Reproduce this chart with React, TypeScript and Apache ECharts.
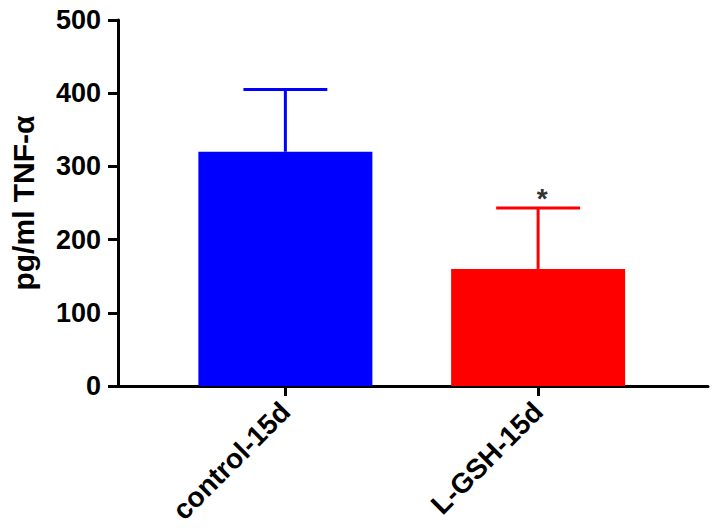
import React, { useEffect, useRef } from "react";
import * as echarts from "echarts";

const categories = ["control-15d", "L-GSH-15d"];
const means = [320, 160];
const sem = [85, 83];
const significance = ["", "*"];
const colors = ["#0000FF", "#FF0000"];
const yMin = 0;
const yMax = 500;
const yInterval = 100;

const FONT = "'Liberation Sans', Arial, Helvetica, sans-serif";

export default function App() {
  const ref = useRef<HTMLDivElement>(null);
  useEffect(() => {
    document.body.style.margin = "0";
    if (!ref.current) return;
    const chart = echarts.init(ref.current, undefined, { renderer: "svg" });
    const option: any = {
      animation: false,
      backgroundColor: "#fff",
      grid: [
        { left: 158.5, right: 48.5, top: 20, bottom: 146 },
        { left: 117, right: 5, top: 20, bottom: 146 },
      ],
      xAxis: [
        {
          type: "category",
          gridIndex: 0,
          data: categories,
          axisLine: { show: false },
          axisTick: {
            show: true,
            alignWithLabel: true,
            length: 10,
            lineStyle: { color: "#000", width: 3 },
          },
          axisLabel: {
            rotate: 45,
            margin: 21,
            fontSize: 28,
            fontWeight: "bold",
            color: "#000",
            fontFamily: FONT,
          },
        },
        {
          type: "value",
          gridIndex: 1,
          min: 0,
          max: 1,
          axisLine: { show: true, lineStyle: { color: "#000", width: 3 } },
          axisTick: { show: false },
          axisLabel: { show: false },
          splitLine: { show: false },
        },
      ],
      yAxis: [
        {
          type: "value",
          gridIndex: 0,
          min: yMin,
          max: yMax,
          interval: yInterval,
          offset: 41,
          axisLine: { show: true, lineStyle: { color: "#000", width: 3 } },
          axisTick: { show: true, length: 10, lineStyle: { color: "#000", width: 3 } },
          axisLabel: {
            fontSize: 27,
            fontWeight: "bold",
            color: "#000",
            margin: 17,
            fontFamily: FONT,
          },
          splitLine: { show: false },
          name: "pg/ml TNF-α",
          nameLocation: "middle",
          nameGap: 80,
          nameTextStyle: {
            fontSize: 30,
            fontWeight: "bold",
            color: "#000",
            fontFamily: FONT,
          },
        },
        { type: "value", gridIndex: 1, show: false, min: 0, max: 1 },
      ],
      series: [
        {
          type: "bar",
          xAxisIndex: 0,
          yAxisIndex: 0,
          barWidth: 174,
          data: means.map((v, i) => ({ value: v, itemStyle: { color: colors[i] } })),
        },
        {
          type: "custom",
          xAxisIndex: 0,
          yAxisIndex: 0,
          z: 3,
          data: means.map((m, i) => [i, m, m + sem[i]]),
          renderItem: (params: any, api: any) => {
            const i = api.value(0);
            const lo = api.coord([i, api.value(1)]);
            const hi = api.coord([i, api.value(2)]);
            const band = api.size([1, 0])[0];
            const half = band * 0.166;
            const color = colors[i];
            const children: any[] = [
              {
                type: "line",
                shape: { x1: lo[0], y1: lo[1], x2: hi[0], y2: hi[1] },
                style: { stroke: color, lineWidth: 3 },
              },
              {
                type: "line",
                shape: { x1: hi[0] - half, y1: hi[1], x2: hi[0] + half, y2: hi[1] },
                style: { stroke: color, lineWidth: 3 },
              },
            ];
            if (significance[i]) {
              children.push({
                type: "text",
                x: hi[0] + 4,
                y: hi[1] - 10,
                style: {
                  text: significance[i],
                  fontSize: 28,
                  fontWeight: "bold",
                  fontFamily: FONT,
                  fill: "#333",
                  align: "center",
                  verticalAlign: "middle",
                },
              });
            }
            return { type: "group", children };
          },
        },
      ],
    };
    chart.setOption(option);
    return () => chart.dispose();
  }, []);
  return <div ref={ref} style={{ width: 713, height: 532 }} />;
}
